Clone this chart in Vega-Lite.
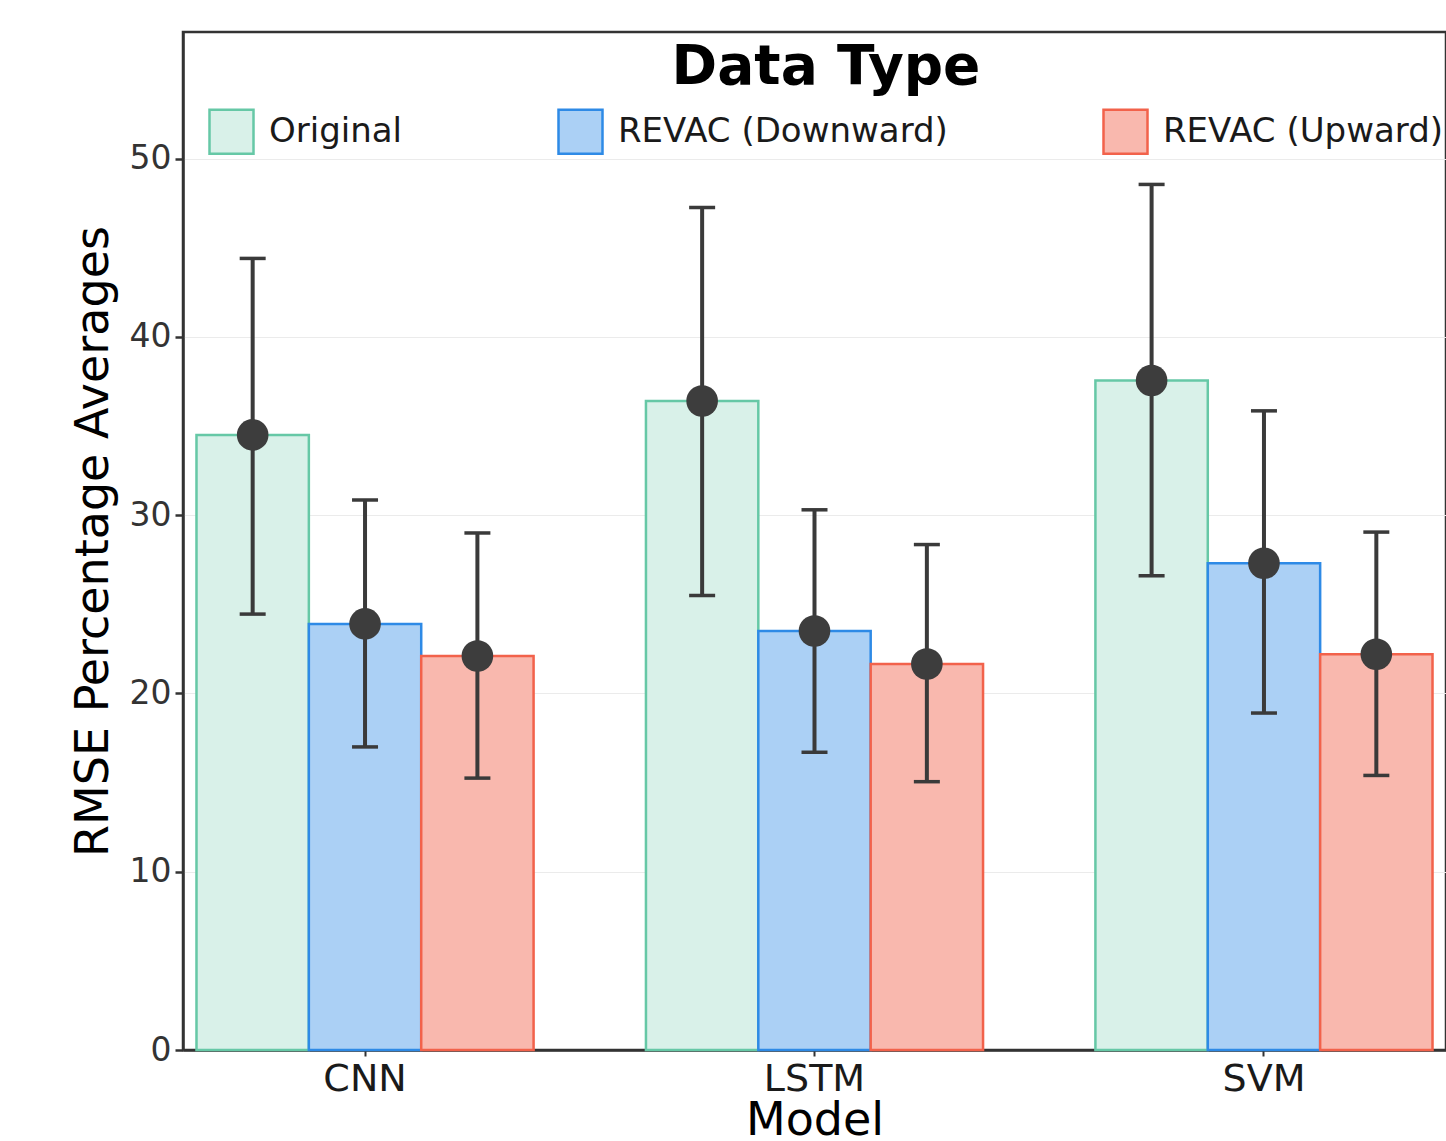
{
  "$schema": "https://vega.github.io/schema/vega-lite/v6.json",
  "width": 1263,
  "height": 1018,
  "autosize": "none",
  "padding": {"left": 183, "top": 32, "right": 0, "bottom": 91},
  "background": "white",
  "config": {
    "font": "DejaVu Sans",
    "view": {"stroke": "#333333", "strokeWidth": 2.5}
  },
  "data": {
    "values": [
      {"Model": "CNN", "Type": "Original", "mean": 34.5, "lo": 24.45, "hi": 44.4},
      {"Model": "CNN", "Type": "REVAC (Downward)", "mean": 23.9, "lo": 17.0, "hi": 30.85},
      {"Model": "CNN", "Type": "REVAC (Upward)", "mean": 22.1, "lo": 15.25, "hi": 29.0},
      {"Model": "LSTM", "Type": "Original", "mean": 36.4, "lo": 25.5, "hi": 47.25},
      {"Model": "LSTM", "Type": "REVAC (Downward)", "mean": 23.5, "lo": 16.7, "hi": 30.3},
      {"Model": "LSTM", "Type": "REVAC (Upward)", "mean": 21.65, "lo": 15.05, "hi": 28.35},
      {"Model": "SVM", "Type": "Original", "mean": 37.55, "lo": 26.6, "hi": 48.55},
      {"Model": "SVM", "Type": "REVAC (Downward)", "mean": 27.3, "lo": 18.9, "hi": 35.85},
      {"Model": "SVM", "Type": "REVAC (Upward)", "mean": 22.2, "lo": 15.4, "hi": 29.05}
    ]
  },
  "encoding": {
    "x": {
      "field": "Model",
      "type": "nominal",
      "scale": {"paddingInner": 0.25, "paddingOuter": 0.03},
      "axis": {
        "title": "Model",
        "titleFontSize": 46,
        "titleFontWeight": "normal",
        "titleColor": "#000000",
        "titlePadding": 0,
        "labelFontSize": 38,
        "labelColor": "#1a1a1a",
        "labelPadding": 4,
        "labelAngle": 0,
        "tickSize": 6,
        "tickWidth": 2,
        "tickColor": "#333333",
        "grid": false,
        "domainColor": "#333333",
        "domainWidth": 2.5
      }
    },
    "xOffset": {
      "field": "Type",
      "type": "nominal",
      "scale": {"domain": ["Original", "REVAC (Downward)", "REVAC (Upward)"], "paddingInner": 0, "paddingOuter": 0}
    }
  },
  "layer": [
    {
      "mark": {"type": "bar", "strokeWidth": 2.5},
      "encoding": {
        "y": {
          "field": "mean",
          "type": "quantitative",
          "stack": null,
          "scale": {"domain": [0, 57.1], "nice": false, "zero": true},
          "axis": {
            "title": "RMSE Percentage Averages",
            "titleFontSize": 46,
            "titleFontWeight": "normal",
            "titleColor": "#000000",
            "titlePadding": 12,
            "values": [0, 10, 20, 30, 40, 50],
            "labelFontSize": 33,
            "labelColor": "#333333",
            "labelPadding": 4,
            "tickSize": 8,
            "tickWidth": 2.5,
            "tickColor": "#333333",
            "grid": true,
            "gridColor": "#ebebeb",
            "gridWidth": 1.2,
            "domainColor": "#333333",
            "domainWidth": 2.5
          }
        },
        "fill": {
          "field": "Type",
          "type": "nominal",
          "scale": {
            "domain": ["Original", "REVAC (Downward)", "REVAC (Upward)"],
            "range": ["#d9f1e9", "#abd0f5", "#f9b8ae"]
          },
          "legend": {
            "title": "Data Type",
            "orient": "none",
            "legendX": 25,
            "legendY": 9,
            "direction": "horizontal",
            "titleFontWeight": "bold",
            "titleFontSize": 55,
            "titleColor": "#000000",
            "titleAnchor": "middle",
            "titleLimit": 1000,
            "titlePadding": 12,
            "symbolType": "square",
            "symbolSize": 1936,
            "symbolStrokeWidth": 2.5,
            "symbolOpacity": 1,
            "labelOffset": 14,
            "labelFontSize": 34,
            "labelColor": "#1a1a1a",
            "labelLimit": 600,
            "columnPadding": 150
          }
        },
        "stroke": {
          "field": "Type",
          "type": "nominal",
          "scale": {
            "domain": ["Original", "REVAC (Downward)", "REVAC (Upward)"],
            "range": ["#66c8a6", "#2e8ae6", "#f2624b"]
          },
          "legend": {
            "title": "Data Type",
            "orient": "none",
            "legendX": 25,
            "legendY": 9,
            "direction": "horizontal",
            "titleFontWeight": "bold",
            "titleFontSize": 55,
            "titleColor": "#000000",
            "titleAnchor": "middle",
            "titleLimit": 1000,
            "titlePadding": 12,
            "symbolType": "square",
            "symbolSize": 1936,
            "symbolStrokeWidth": 2.5,
            "symbolOpacity": 1,
            "labelOffset": 14,
            "labelFontSize": 34,
            "labelColor": "#1a1a1a",
            "labelLimit": 600,
            "columnPadding": 150
          }
        }
      }
    },
    {
      "mark": {"type": "rule", "color": "#3a3a3a", "strokeWidth": 4},
      "encoding": {
        "y": {
          "field": "lo",
          "type": "quantitative",
          "axis": {
            "title": "RMSE Percentage Averages",
            "titleFontSize": 46,
            "titleFontWeight": "normal",
            "titleColor": "#000000",
            "titlePadding": 12,
            "values": [0, 10, 20, 30, 40, 50],
            "labelFontSize": 33,
            "labelColor": "#333333",
            "labelPadding": 4,
            "tickSize": 8,
            "tickWidth": 2.5,
            "tickColor": "#333333",
            "grid": true,
            "gridColor": "#ebebeb",
            "gridWidth": 1.2,
            "domainColor": "#333333",
            "domainWidth": 2.5
          }
        },
        "y2": {"field": "hi"}
      }
    },
    {
      "mark": {"type": "tick", "color": "#3a3a3a", "thickness": 3.5, "size": 26, "opacity": 1},
      "encoding": {
        "y": {
          "field": "hi",
          "type": "quantitative",
          "axis": {
            "title": "RMSE Percentage Averages",
            "titleFontSize": 46,
            "titleFontWeight": "normal",
            "titleColor": "#000000",
            "titlePadding": 12,
            "values": [0, 10, 20, 30, 40, 50],
            "labelFontSize": 33,
            "labelColor": "#333333",
            "labelPadding": 4,
            "tickSize": 8,
            "tickWidth": 2.5,
            "tickColor": "#333333",
            "grid": true,
            "gridColor": "#ebebeb",
            "gridWidth": 1.2,
            "domainColor": "#333333",
            "domainWidth": 2.5
          }
        }
      }
    },
    {
      "mark": {"type": "tick", "color": "#3a3a3a", "thickness": 3.5, "size": 26, "opacity": 1},
      "encoding": {
        "y": {
          "field": "lo",
          "type": "quantitative",
          "axis": {
            "title": "RMSE Percentage Averages",
            "titleFontSize": 46,
            "titleFontWeight": "normal",
            "titleColor": "#000000",
            "titlePadding": 12,
            "values": [0, 10, 20, 30, 40, 50],
            "labelFontSize": 33,
            "labelColor": "#333333",
            "labelPadding": 4,
            "tickSize": 8,
            "tickWidth": 2.5,
            "tickColor": "#333333",
            "grid": true,
            "gridColor": "#ebebeb",
            "gridWidth": 1.2,
            "domainColor": "#333333",
            "domainWidth": 2.5
          }
        }
      }
    },
    {
      "mark": {"type": "point", "filled": true, "opacity": 1, "color": "#3d3d3d", "size": 1000, "shape": "circle"},
      "encoding": {
        "y": {
          "field": "mean",
          "type": "quantitative",
          "axis": {
            "title": "RMSE Percentage Averages",
            "titleFontSize": 46,
            "titleFontWeight": "normal",
            "titleColor": "#000000",
            "titlePadding": 12,
            "values": [0, 10, 20, 30, 40, 50],
            "labelFontSize": 33,
            "labelColor": "#333333",
            "labelPadding": 4,
            "tickSize": 8,
            "tickWidth": 2.5,
            "tickColor": "#333333",
            "grid": true,
            "gridColor": "#ebebeb",
            "gridWidth": 1.2,
            "domainColor": "#333333",
            "domainWidth": 2.5
          }
        }
      }
    }
  ]
}
